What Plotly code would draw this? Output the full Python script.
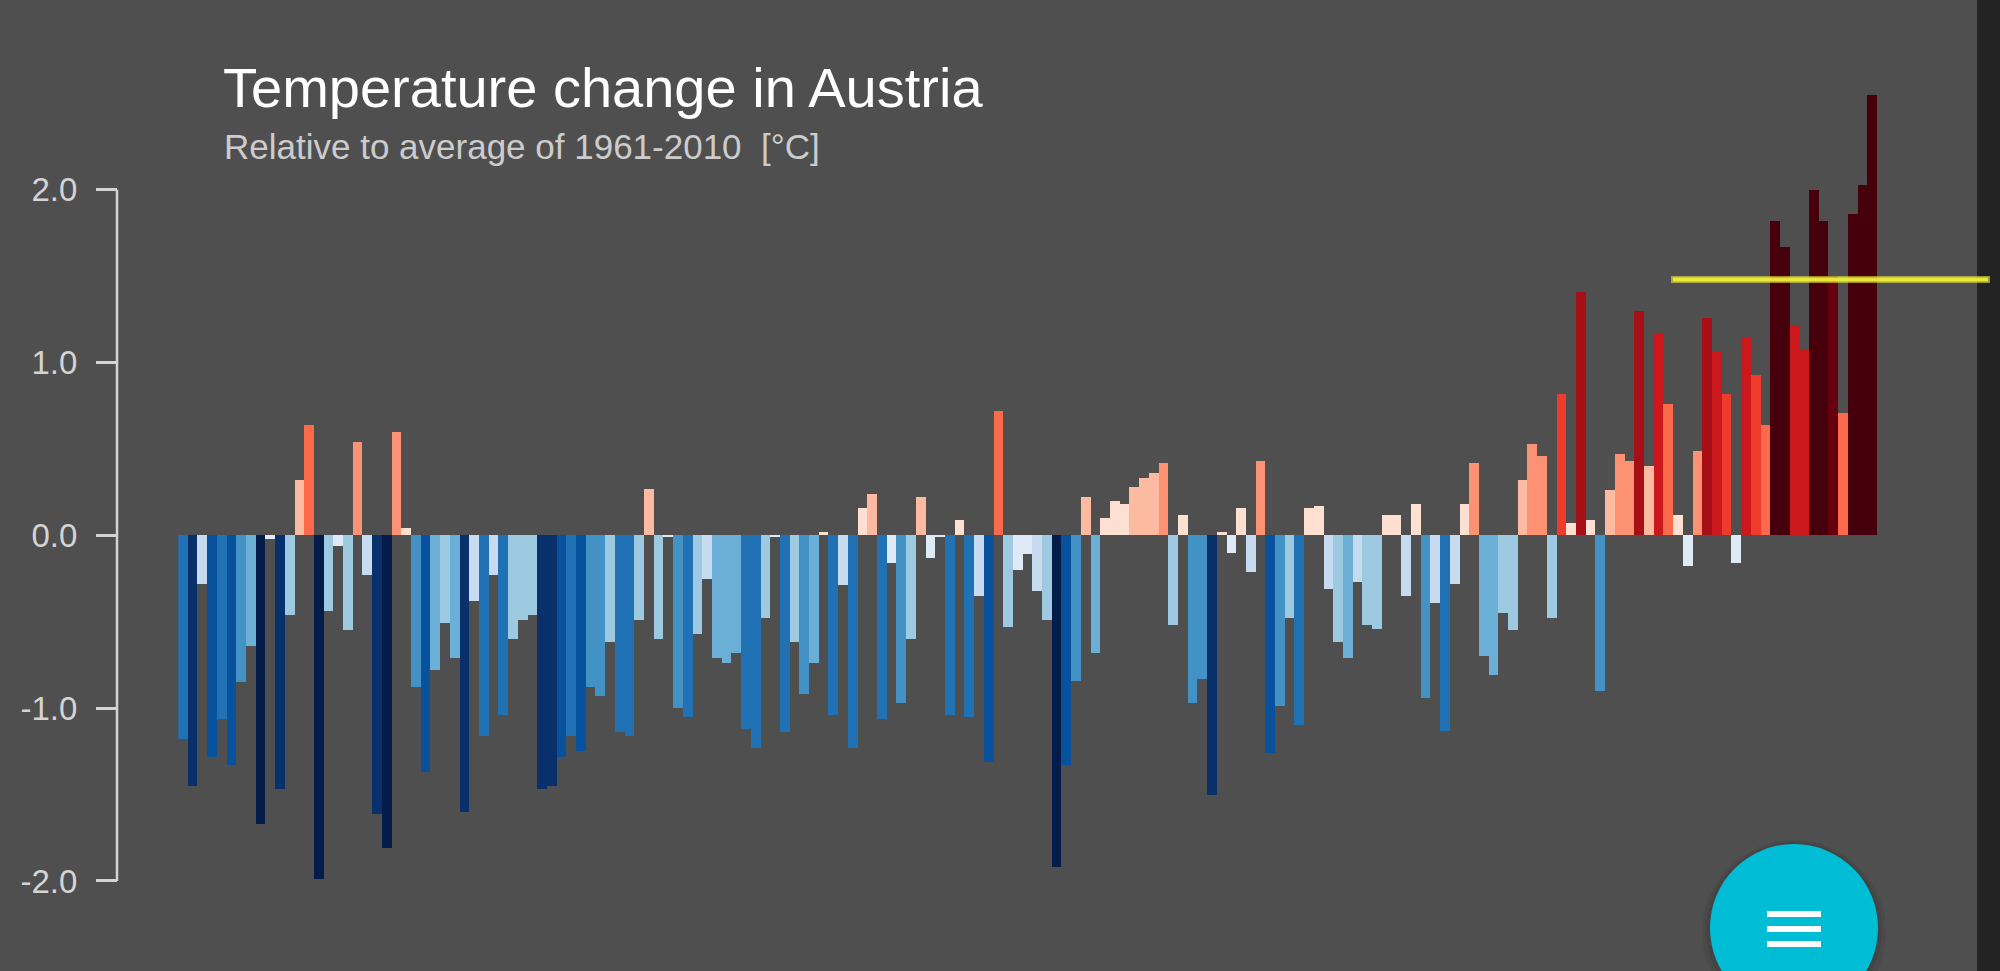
import plotly.graph_objects as go

# ---------------- data ----------------
years = list(range(1850, 2025))
anomaly = [
    -1.18, -1.45, -0.28, -1.28, -1.06, -1.33, -0.85, -0.64, -1.67, -0.02,
    -1.47, -0.46, 0.32, 0.64, -1.99, -0.44, -0.06, -0.55, 0.54, -0.23,
    -1.61, -1.81, 0.60, 0.04, -0.88, -1.37, -0.78, -0.51, -0.71, -1.60,
    -0.38, -1.16, -0.23, -1.04, -0.60, -0.49, -0.46, -1.47, -1.45, -1.28,
    -1.16, -1.25, -0.88, -0.93, -0.617, -1.14, -1.16, -0.49, 0.27, -0.60,
    -0.005, -1.00, -1.05, -0.57, -0.25, -0.71, -0.74, -0.68, -1.12, -1.23,
    -0.48, -0.005, -1.14, -0.62, -0.92, -0.74, 0.02, -1.04, -0.29, -1.23,
    0.16, 0.24, -1.06, -0.16, -0.97, -0.60, 0.22, -0.13, -0.005, -1.04,
    0.09, -1.05, -0.35, -1.31, 0.72, -0.53, -0.20, -0.11, -0.32, -0.49,
    -1.92, -1.33, -0.84, 0.22, -0.68, 0.10, 0.20, 0.18, 0.28, 0.33,
    0.36, 0.42, -0.52, 0.12, -0.97, -0.83, -1.50, 0.02, -0.10, 0.16,
    -0.21, 0.43, -1.26, -0.99, -0.48, -1.10, 0.16, 0.17, -0.31, -0.617,
    -0.71, -0.27, -0.52, -0.54, 0.12, 0.12, -0.35, 0.18, -0.94, -0.39,
    -1.13, -0.28, 0.18, 0.42, -0.70, -0.81, -0.45, -0.55, 0.32, 0.53,
    0.46, -0.48, 0.82, 0.07, 1.41, 0.09, -0.90, 0.26, 0.47, 0.43,
    1.30, 0.40, 1.17, 0.76, 0.12, -0.18, 0.49, 1.26, 1.06, 0.82,
    -0.16, 1.14, 0.93, 0.64, 1.82, 1.67, 1.22, 1.07, 2.00, 1.82,
    1.50, 0.71, 1.86, 2.03, 2.55,
]
tick_vals = [-2, -1, 0, 1, 2]
tick_text = ["-2.0", "-1.0", "0.0", "1.0", "2.0"]
title_text = "Temperature change in Austria"
subtitle_text = "Relative to average of 1961-2010\u00a0\u00a0[°C]"
highlight_level = 1.48

# ---------------- style ----------------
W, H = 2000, 971
ML = 117
Y_RANGE = [-2.521, 3.098]
BG = "#4f4f4f"
AXIS_COL = "#d4d4d4"

blues = ["#deebf7", "#c6dbef", "#9ecae1", "#6baed6", "#4292c6",
         "#2171b5", "#08519c", "#08306b", "#041c4a"]
reds = ["#fee0d2", "#fcbba1", "#fc9272", "#fb6a4a", "#ef3b2c",
        "#cb181d", "#a50f15", "#67000d", "#45000b"]
edges = [0.205, 0.41, 0.625, 0.82, 1.03, 1.24, 1.44, 1.64]


def bar_color(v):
    lvl = sum(abs(v) >= e for e in edges)
    return (reds if v > 0 else blues)[lvl]


def px_x(p):
    return (p - ML) / (W - ML)


def py(p):
    return 1 - p / H


def vy(v):
    return (v - Y_RANGE[0]) / (Y_RANGE[1] - Y_RANGE[0])


fig = go.Figure()
fig.add_trace(go.Bar(
    x=years, y=anomaly, width=1,
    marker=dict(color=[bar_color(v) for v in anomaly], line=dict(width=0)),
    hoverinfo="x+y", showlegend=False,
))

shapes = [
    # y axis bracket line
    dict(type="line", xref="paper", yref="paper", x0=0, x1=0,
         y0=vy(-2), y1=vy(2), line=dict(color=AXIS_COL, width=2.5)),
    # dark right edge strip
    dict(type="rect", xref="paper", yref="paper", x0=px_x(1977), x1=1.01,
         y0=-0.01, y1=1.01, fillcolor="#232323", line=dict(width=0), layer="above"),
    # hand-drawn yellow highlight
    dict(type="line", xref="paper", yref="paper", x0=px_x(1671), x1=px_x(1990),
         y0=vy(highlight_level), y1=vy(highlight_level),
         line=dict(color="rgba(232,232,52,0.6)", width=7), layer="above"),
    dict(type="line", xref="paper", yref="paper", x0=px_x(1673), x1=px_x(1988),
         y0=vy(highlight_level), y1=vy(highlight_level),
         line=dict(color="rgba(236,236,60,0.95)", width=4), layer="above"),
    # button shadow
    dict(type="circle", xref="paper", yref="paper", x0=px_x(1702), x1=px_x(1886),
         y0=py(1024), y1=py(840), fillcolor="rgba(0,0,0,0.05)", line=dict(width=0), layer="above"),
    dict(type="circle", xref="paper", yref="paper", x0=px_x(1706), x1=px_x(1882),
         y0=py(1018), y1=py(842), fillcolor="rgba(0,0,0,0.07)", line=dict(width=0), layer="above"),
    # button
    dict(type="circle", xref="paper", yref="paper", x0=px_x(1710), x1=px_x(1878),
         y0=py(1012), y1=py(844), fillcolor="#00bcd4", line=dict(width=0), layer="above"),
]
for c in (914, 929, 944):
    shapes.append(dict(type="rect", xref="paper", yref="paper",
                       x0=px_x(1767), x1=px_x(1821), y0=py(c + 3), y1=py(c - 3),
                       fillcolor="#ffffff", line=dict(width=0), layer="above"))

fig.update_layout(
    width=W, height=H,
    margin=dict(l=ML, r=0, t=0, b=0, pad=0),
    paper_bgcolor=BG, plot_bgcolor=BG,
    bargap=0,
    showlegend=False,
    xaxis=dict(domain=[px_x(178.3), px_x(1877.3)], range=[1849.5, 2024.5],
               visible=False, fixedrange=True),
    yaxis=dict(range=Y_RANGE, anchor="free", position=0,
               tickmode="array", tickvals=tick_vals, ticktext=tick_text,
               ticks="outside", ticklen=21, tickwidth=2.5, tickcolor=AXIS_COL,
               ticklabelstandoff=12,
               tickfont=dict(family="Liberation Sans, Arial, sans-serif", size=33, color=AXIS_COL),
               showgrid=False, zeroline=False, showline=False, fixedrange=True),
    shapes=shapes,
    annotations=[
        dict(text=title_text, xref="paper", yref="paper", x=px_x(221), y=py(87),
             xanchor="left", yanchor="middle", showarrow=False,
             font=dict(family="Liberation Sans, Arial, sans-serif", size=56, color="#ffffff")),
        dict(text=subtitle_text, xref="paper", yref="paper", x=px_x(222), y=py(146),
             xanchor="left", yanchor="middle", showarrow=False,
             font=dict(family="Liberation Sans, Arial, sans-serif", size=35, color="#cccccc")),
    ],
)

fig.write_html("out.html", config={"displayModeBar": False},
               post_script="document.body.style.margin='0';document.body.style.overflow='hidden';")
